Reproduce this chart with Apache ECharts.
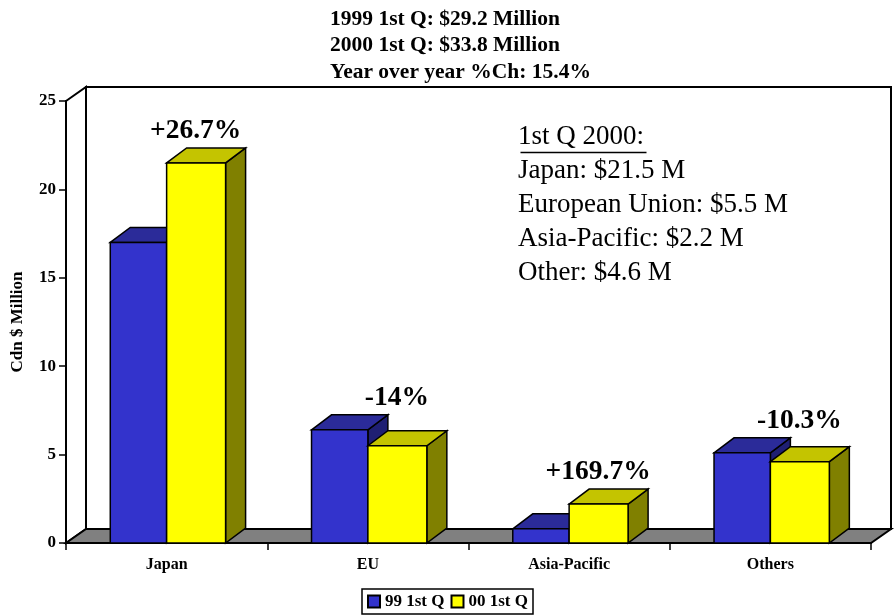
<!DOCTYPE html>
<html>
<head>
<meta charset="utf-8">
<script src="https://cdn.jsdelivr.net/npm/echarts@6/dist/echarts.min.js"></script>
<style>
  html, body { margin: 0; padding: 0; background: #fff; }
  #main { width: 895px; height: 615px; }
</style>
</head>
<body>
<div id="main"></div>
<script>
// chart values
var categories = ['Japan', 'EU', 'Asia-Pacific', 'Others'];
var q1999 = [17.0, 6.4, 0.8, 5.1];
var q2000 = [21.5, 5.5, 2.2, 4.6];
var pctChange = ['+26.7%', '-14%', '+169.7%', '-10.3%'];
var seriesNames = ['99 1st Q', '00 1st Q'];
var yMin = 0, yMax = 25, yStep = 5;
var titleLines = ['1999 1st Q: $29.2 Million', '2000 1st Q: $33.8 Million', 'Year over year %Ch: 15.4%'];
var noteLines = ['1st Q 2000:', 'Japan: $21.5 M', 'European Union: $5.5 M', 'Asia-Pacific: $2.2 M', 'Other: $4.6 M'];

var SERIF = '"Liberation Serif", "Times New Roman", serif';
var DX = 20, DY = -14;     // depth of the walls
var BDX = 20, BDY = -15;   // depth of the bars

// walls and floor, drawn from the grid rect
function frameItem(params, api) {
  var c = params.coordSys;
  var x = c.x, y = c.y, w = c.width, h = c.height;
  var line = { stroke: '#000', lineWidth: 2 };
  return {
    type: 'group',
    children: [
      { type: 'rect', shape: { x: x + DX, y: y + DY, width: w, height: h },
        style: Object.assign({ fill: '#fff' }, line) },
      { type: 'polygon', shape: { points: [[x, y], [x + DX, y + DY], [x + DX, y + h + DY], [x, y + h]] },
        style: Object.assign({ fill: '#fff' }, line) },
      { type: 'polygon', shape: { points: [[x, y + h], [x + DX, y + h + DY], [x + w + DX, y + h + DY], [x + w, y + h]] },
        style: Object.assign({ fill: '#808080' }, line) }
    ]
  };
}

// one 3d bar: front, top, side
function barItem(offset, width, colors, withLabel) {
  return function (params, api) {
    var i = api.value(0), v = api.value(1);
    var top = api.coord([i, v]);
    var base = api.coord([i, 0]);
    var band = api.size([1, 0])[0];
    var x0 = top[0] + offset * band, x1 = x0 + width * band;
    var ty = top[1], by = base[1];
    var st = { stroke: '#000', lineWidth: 1.5 };
    var kids = [
      { type: 'polygon', shape: { points: [[x1, ty], [x1 + BDX, ty + BDY], [x1 + BDX, by + BDY], [x1, by]] },
        style: Object.assign({ fill: colors[2] }, st) },
      { type: 'polygon', shape: { points: [[x0, ty], [x0 + BDX, ty + BDY], [x1 + BDX, ty + BDY], [x1, ty]] },
        style: Object.assign({ fill: colors[1] }, st) },
      { type: 'rect', shape: { x: x0, y: ty, width: x1 - x0, height: by - ty },
        style: Object.assign({ fill: colors[0] }, st) }
    ];
    if (withLabel) {
      var hi = api.coord([i, Math.max(q1999[i], q2000[i])]);
      kids.push({ type: 'text', style: {
        text: pctChange[i], x: top[0] + 29, y: hi[1] + BDY - 17,
        align: 'center', verticalAlign: 'middle',
        font: 'bold 27.5px ' + SERIF, fill: '#000' } });
    }
    return { type: 'group', children: kids };
  };
}

var blue = ['#3333CC', '#2B2B99', '#1F1F73'];
var yellow = ['#FFFF00', '#C4C400', '#808000'];

var chart = echarts.init(document.getElementById('main'));
chart.setOption({
  animation: false,
  backgroundColor: '#fff',
  title: {
    text: titleLines.join('\n'),
    left: 330, top: 6, padding: 0,
    textStyle: { fontFamily: SERIF, fontWeight: 'bold', fontSize: 21.5, lineHeight: 26.5, color: '#000' }
  },
  legend: {
    data: seriesNames,
    left: 'center', top: 589,
    icon: 'rect', itemWidth: 12, itemHeight: 12, itemGap: 6,
    padding: [4, 5], borderColor: '#000', borderWidth: 1.5,
    textStyle: { fontFamily: SERIF, fontWeight: 'bold', fontSize: 17, color: '#000' }
  },
  grid: { left: 66, right: 24, top: 101, bottom: 72, outerBoundsMode: 'none' },
  xAxis: {
    type: 'category', data: categories,
    axisLine: { lineStyle: { color: '#000', width: 2 } },
    axisTick: { show: true, length: 7, lineStyle: { color: '#000', width: 1.5 } },
    axisLabel: { margin: 14, fontFamily: SERIF, fontWeight: 'bold', fontSize: 16, color: '#000' }
  },
  yAxis: {
    type: 'value', min: yMin, max: yMax, interval: yStep,
    name: 'Cdn $ Million', nameLocation: 'middle', nameRotate: 90, nameGap: 40,
    nameTextStyle: { fontFamily: SERIF, fontWeight: 'bold', fontSize: 17, color: '#000' },
    axisLine: { show: true, lineStyle: { color: '#000', width: 2 } },
    axisTick: { show: true, length: 7, lineStyle: { color: '#000', width: 1.5 } },
    axisLabel: { margin: 10, fontFamily: SERIF, fontWeight: 'bold', fontSize: 17, color: '#000' },
    splitLine: { show: false }
  },
  graphic: [
    { type: 'text', left: 518, top: 120, z: 10,
      style: { text: noteLines.join('\n'), font: '27px ' + SERIF, lineHeight: 34, fill: '#000' } },
    { type: 'line', left: 518, top: 150, z: 10,
      shape: { x1: 0, y1: 0, x2: 126, y2: 0 }, style: { stroke: '#000', lineWidth: 1.5 } }
  ],
  series: [
    { type: 'custom', name: 'frame', silent: true, z: 1, data: [[0]], renderItem: frameItem },
    { type: 'custom', name: seriesNames[0], z: 2,
      itemStyle: { color: blue[0], borderColor: '#000', borderWidth: 1 },
      data: q1999.map(function (v, i) { return [i, v]; }),
      renderItem: barItem(-0.28, 0.28, blue, false) },
    { type: 'custom', name: seriesNames[1], z: 3,
      itemStyle: { color: yellow[0], borderColor: '#000', borderWidth: 1 },
      data: q2000.map(function (v, i) { return [i, v]; }),
      renderItem: barItem(0, 0.293, yellow, true) }
  ]
});
</script>
</body>
</html>
